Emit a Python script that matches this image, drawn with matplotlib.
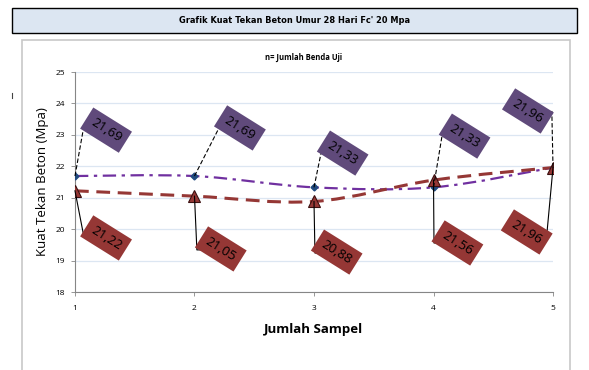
import numpy as np
import matplotlib
matplotlib.use("Agg")
import matplotlib.pyplot as plt
from matplotlib.path import Path
from matplotlib.patches import PathPatch, Rectangle
from matplotlib import font_manager

# data
sampel = [1, 2, 3, 4, 5]
seri_ungu = [21.69, 21.69, 21.33, 21.33, 21.96]
seri_merah = [21.22, 21.05, 20.88, 21.56, 21.96]
label_ungu = ["21,69", "21,69", "21,33", "21,33", "21,96"]
label_merah = ["21,22", "21,05", "20,88", "21,56", "21,96"]

# posisi kotak label dan ujung garis penunjuk (koordinat data)
pos_ungu = [(1.26, 23.15), (2.38, 23.22), (3.24, 22.42), (4.26, 22.96), (4.79, 23.76)]
ujung_ungu = [(1.067, 23.12), (2.205, 23.22), (3.059, 22.42), (4.071, 22.96), (4.99, 23.76)]
pos_merah = [(1.26, 19.72), (2.22, 19.37), (3.19, 19.27), (4.20, 19.56), (4.78, 19.91)]
ujung_merah = [(1.075, 19.75), (2.02, 19.34), (3.008, 19.24), (4.004, 19.56), (4.95, 19.91)]

warna_ungu = "#7030a0"
warna_merah = "#953735"
kotak_ungu = "#604a7b"
kotak_merah = "#953735"

nama_font = {f.name for f in font_manager.fontManager.ttflist}


def garis_halus(ax, xs, ys, **kw):
    # kurva halus gaya excel (catmull-rom -> bezier)
    pts = np.column_stack([xs, ys]).astype(float)
    n = len(pts)
    verts = [pts[0]]
    codes = [Path.MOVETO]
    for i in range(n - 1):
        p0 = pts[max(i - 1, 0)]
        p1 = pts[i]
        p2 = pts[i + 1]
        p3 = pts[min(i + 2, n - 1)]
        c1 = p1 + (p2 - p0) / 6.0
        c2 = p2 - (p3 - p1) / 6.0
        verts += [c1, c2, p2]
        codes += [Path.CURVE4] * 3
    ax.add_patch(PathPatch(Path(verts, codes), fill=False, **kw))


fig = plt.figure(figsize=(5.89, 3.70), dpi=100)
fig.patch.set_facecolor("white")

# kotak judul
fig.add_artist(Rectangle((0.0204, 0.9108), 0.959, 0.0676, transform=fig.transFigure,
                         facecolor="#dce6f2", edgecolor="black", lw=1.0, zorder=-2))
if "Liberation Sans Narrow" in nama_font:
    font_judul = dict(family="Liberation Sans Narrow", fontsize=8.5)
else:
    font_judul = dict(family="DejaVu Sans", fontstretch="condensed", fontsize=6.6)
fig.text(0.5, 0.9446, "Grafik Kuat Tekan Beton Umur 28 Hari Fc' 20 Mpa",
         ha="center", va="center", fontweight="bold", **font_judul)

# kotak area grafik
fig.add_artist(Rectangle((0.0374, -0.01), 0.9303, 0.902, transform=fig.transFigure,
                         facecolor="white", edgecolor="#c8c8c8", lw=1.2, zorder=-2))
fig.text(0.515, 0.845, "n= Jumlah Benda Uji", ha="center", va="center",
         fontsize=5.5, fontweight="bold", family="Open Sans")
fig.add_artist(plt.Line2D([0.021, 0.021], [0.735, 0.75], color="#444444", lw=0.8,
                          transform=fig.transFigure))

ax = fig.add_axes([0.1273, 0.2108, 0.8116, 0.5946])
ax.patch.set_alpha(0)
ax.set_xlim(1, 5)
ax.set_ylim(18, 25)
ax.set_xticks(sampel)
ax.set_yticks(range(18, 26))
ax.grid(axis="y", color="#dce6f2", lw=0.9)
ax.set_axisbelow(True)
for s in ["top", "right"]:
    ax.spines[s].set_visible(False)
for s in ["left", "bottom"]:
    ax.spines[s].set_color("#868686")
    ax.spines[s].set_linewidth(0.8)
ax.tick_params(direction="out", length=3, width=0.6, color="#868686",
               labelsize=6, pad=4)
ax.tick_params(axis="x", pad=6)
for t in ax.get_xticklabels() + ax.get_yticklabels():
    t.set_family("Open Sans")

garis_halus(ax, sampel, seri_ungu, edgecolor=warna_ungu, lw=1.6,
            linestyle=(0, (6, 2.5, 1.5, 2.5)), zorder=3)
garis_halus(ax, sampel, seri_merah, edgecolor=warna_merah, lw=2.2,
            linestyle=(0, (4.5, 2.5)), zorder=3)
ax.plot(sampel, seri_ungu, "D", color="#1f497d", ms=3.5, ls="none", zorder=4)
ax.plot(sampel, seri_merah, "^", color=warna_merah, mec="#3b1010", mew=0.8,
        ms=9, ls="none", zorder=5)

# garis penunjuk dan label nilai
for x, y, (ex, ey), lab, p in zip(sampel, seri_ungu, ujung_ungu, label_ungu, pos_ungu):
    ax.plot([x, ex], [y, ey], color="black", lw=0.8, ls=(0, (4, 2)), zorder=6,
            clip_on=False)
    ax.text(p[0], p[1], lab, ha="center", va="center", rotation=-32,
            rotation_mode="anchor", fontsize=9.5, family="Open Sans", zorder=7,
            bbox=dict(boxstyle="square,pad=0.45", fc=kotak_ungu, ec="none"))
for x, y, (ex, ey), lab, p in zip(sampel, seri_merah, ujung_merah, label_merah, pos_merah):
    ax.plot([x, ex, p[0]], [y, ey, ey], color="black", lw=0.8, zorder=6,
            clip_on=False)
    ax.text(p[0], p[1], lab, ha="center", va="center", rotation=-32,
            rotation_mode="anchor", fontsize=9.5, family="Open Sans", zorder=7,
            bbox=dict(boxstyle="square,pad=0.45", fc=kotak_merah, ec="none"))

ax.set_ylabel("Kuat Tekan Beton (Mpa)", fontsize=9.5, family="Open Sans", labelpad=5)
ax.set_xlabel("Jumlah Sampel", fontsize=9.5, fontweight="bold", family="Open Sans",
              labelpad=8)

fig.savefig("out.png", dpi=100)
